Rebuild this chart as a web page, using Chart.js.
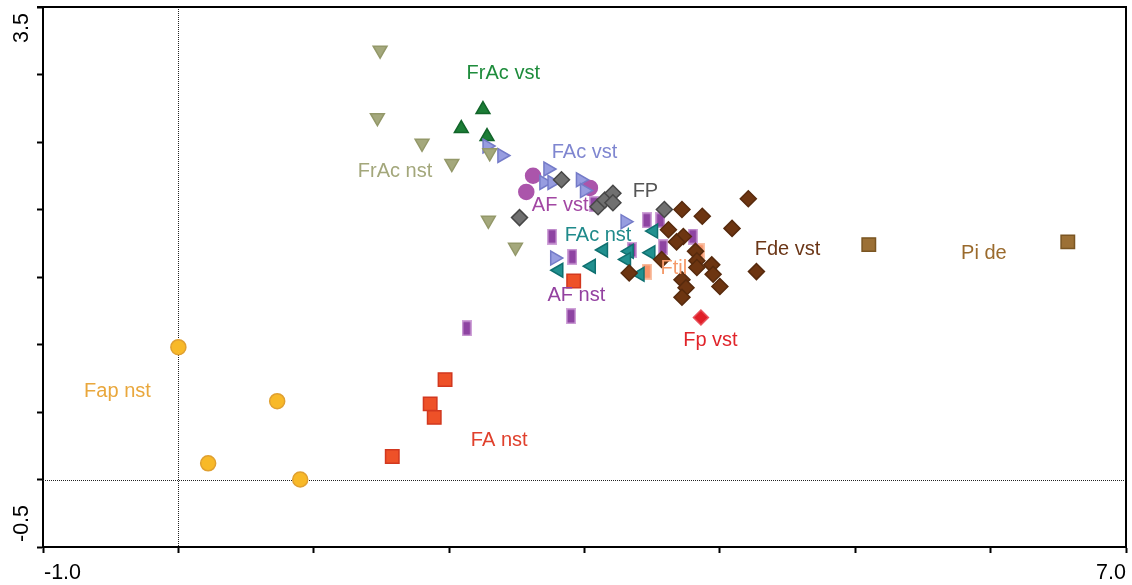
<!DOCTYPE html>
<html>
<head>
<meta charset="utf-8">
<script src="https://cdn.jsdelivr.net/npm/chart.js"></script>
<style>
  body { margin: 0; background: #fff; }
  #wrap { width: 1132px; height: 585px; }
</style>
</head>
<body>
<div id="wrap"><canvas id="ordination" width="1132" height="585"></canvas></div>
<script>
// axis range / ticks
var xTickLabels = [-1.0, 7.0];
var yTickLabels = [-0.5, 3.5];

// sample scores, one pair of arrays per group
var fracNstX = [1.49, 1.47, 1.80, 2.02, 2.30, 2.29, 2.49];
var fracNstY = [3.18, 2.68, 2.49, 2.34, 2.42, 1.92, 1.72];
var fracVstX = [2.25, 2.09, 2.28];
var fracVstY = [2.74, 2.60, 2.54];
var facVstX = [2.28, 2.39, 2.73, 2.70, 2.76, 2.97, 3.00, 3.30, 2.78];
var facVstY = [2.47, 2.40, 2.30, 2.20, 2.20, 2.22, 2.14, 1.91, 1.64];
var afVstX = [2.62, 2.57, 3.04];
var afVstY = [2.25, 2.13, 2.16];
var fpX = [2.83, 2.52, 3.10, 3.15, 3.21, 3.21, 3.59];
var fpY = [2.22, 1.94, 2.02, 2.07, 2.12, 2.05, 2.00];
var afNstX = [2.76, 2.91, 3.07, 3.46, 3.56, 3.35, 3.58, 3.80, 2.90, 2.13];
var afNstY = [1.80, 1.65, 2.04, 1.92, 1.92, 1.70, 1.72, 1.80, 1.21, 1.12];
var facNstX = [3.14, 2.81, 3.05, 3.33, 3.31, 3.51, 3.49, 3.41];
var facNstY = [1.70, 1.55, 1.58, 1.69, 1.63, 1.84, 1.68, 1.52];
var ftilX = [3.46, 3.85];
var ftilY = [1.54, 1.69];
var fdeVstX = [4.21, 3.72, 3.87, 4.09, 3.62, 3.73, 3.68, 3.82, 3.83, 3.94, 3.95, 3.83, 3.57, 3.33, 4.27, 3.72, 3.75, 4.00, 3.72];
var fdeVstY = [2.08, 2.00, 1.95, 1.86, 1.85, 1.80, 1.76, 1.69, 1.62, 1.59, 1.52, 1.57, 1.63, 1.53, 1.54, 1.48, 1.42, 1.43, 1.35];
var fpVstX = [3.86];
var fpVstY = [1.20];
var faNstX = [1.97, 1.86, 1.89, 1.58, 2.92];
var faNstY = [0.74, 0.56, 0.46, 0.17, 1.47];
var fapNstX = [0.0, 0.73, 0.22, 0.90];
var fapNstY = [0.98, 0.58, 0.12, 0.0];
var piDeX = [5.10, 6.57];
var piDeY = [1.74, 1.76];

// group names written on the plot and where they sit (data units)
var groupNames = ["FrAc vst", "FrAc nst", "FAc vst", "AF vst", "FP", "FAc nst", "AF nst", "Ftil", "Fde vst", "Fp vst", "FA nst", "Fap nst", "Pi de"];
var nameX = [2.40, 1.60, 3.00, 2.82, 3.45, 3.10, 2.94, 3.66, 4.50, 3.93, 2.37, -0.45, 5.95];
var nameY = [2.97, 2.24, 2.38, 1.99, 2.09, 1.77, 1.32, 1.52, 1.66, 0.99, 0.25, 0.61, 1.63];
var nameColors = ["#1e8c3c", "#a3a77b", "#7f86d0", "#a247a3", "#555555", "#1f8a8b", "#9341a0", "#f49a6a", "#6b3617", "#e0242a", "#e0402c", "#e9a73c", "#9a6a2c"];

function pts(xs, ys) {
  return xs.map(function (x, i) { return { x: x, y: ys[i] }; });
}

function barMark(fill, edge) {
  var c = document.createElement("canvas");
  c.width = 10; c.height = 16;
  var g = c.getContext("2d");
  g.fillStyle = edge;
  g.fillRect(0, 0, 10, 16);
  g.fillStyle = fill;
  g.fillRect(1.5, 1.5, 7, 13);
  return c;
}

function group(label, xs, ys, style, fill, edge, r, rot) {
  return {
    label: label,
    data: pts(xs, ys),
    pointStyle: style,
    pointRotation: rot || 0,
    pointRadius: r,
    pointHoverRadius: r,
    backgroundColor: fill,
    borderColor: edge,
    pointBorderWidth: 1.5
  };
}

var refLines = {
  id: "refLines",
  beforeDatasetsDraw: function (chart) {
    var ctx = chart.ctx, a = chart.chartArea;
    var x0 = chart.scales.x.getPixelForValue(0);
    var y0 = chart.scales.y.getPixelForValue(0);
    ctx.save();
    ctx.strokeStyle = "#222";
    ctx.lineWidth = 1;
    ctx.setLineDash([1, 1]);
    ctx.beginPath();
    ctx.moveTo(Math.round(x0) + 0.5, a.top);
    ctx.lineTo(Math.round(x0) + 0.5, a.bottom);
    ctx.moveTo(a.left, Math.round(y0) + 0.5);
    ctx.lineTo(a.right, Math.round(y0) + 0.5);
    ctx.stroke();
    ctx.restore();
  },
  afterDatasetsDraw: function (chart) {
    var ctx = chart.ctx, a = chart.chartArea;
    var sx = chart.scales.x, sy = chart.scales.y;
    ctx.save();
    // frame top + right
    ctx.strokeStyle = "#000";
    ctx.lineWidth = 2;
    ctx.beginPath();
    ctx.moveTo(a.left - 6, a.top);
    ctx.lineTo(a.right, a.top);
    ctx.lineTo(a.right, a.bottom);
    ctx.stroke();

    // group names
    ctx.font = "20px 'Liberation Sans', Arial, sans-serif";
    ctx.textAlign = "center";
    ctx.textBaseline = "alphabetic";
    groupNames.forEach(function (n, i) {
      ctx.fillStyle = nameColors[i];
      ctx.fillText(n, sx.getPixelForValue(nameX[i]), sy.getPixelForValue(nameY[i]));
    });

    // end tick labels
    ctx.fillStyle = "#000";
    ctx.font = "21.5px 'Liberation Sans', Arial, sans-serif";
    ctx.textAlign = "left";
    ctx.fillText(xTickLabels[0].toFixed(1), sx.getPixelForValue(xTickLabels[0]) + 1, 579);
    ctx.textAlign = "right";
    ctx.fillText(xTickLabels[1].toFixed(1), sx.getPixelForValue(xTickLabels[1]), 579);

    ctx.translate(28, 0);
    ctx.rotate(-Math.PI / 2);
    ctx.textAlign = "left";
    ctx.fillText(yTickLabels[0].toFixed(1), -(sy.getPixelForValue(yTickLabels[0]) - 5), 0);
    ctx.textAlign = "right";
    ctx.fillText(yTickLabels[1].toFixed(1), -(sy.getPixelForValue(yTickLabels[1]) + 6), 0);
    ctx.restore();
  }
};

new Chart(document.getElementById("ordination"), {
  type: "scatter",
  data: {
    datasets: [
      group("Fde vst", fdeVstX, fdeVstY, "rectRot", "#6d3511", "#572a0d", 8),
      group("Fp vst", fpVstX, fpVstY, "rectRot", "#e01f28", "#e8505a", 7.5),
      group("FP", fpX, fpY, "rectRot", "#707070", "#474747", 8),
      group("FAc nst", facNstX, facNstY, "triangle", "#21908f", "#0f7070", 8, -90),
      group("AF nst", afNstX, afNstY, barMark("#8e44a2", "#cfa2d8"), "#8e44a2", "#cfa2d8", 8),
      group("Ftil", ftilX, ftilY, barMark("#f8946a", "#f9c2a6"), "#f8946a", "#f9c2a6", 8),
      group("FrAc nst", fracNstX, fracNstY, "triangle", "#a4a87c", "#939869", 8, 180),
      group("FAc vst", facVstX, facVstY, "triangle", "#979de0", "#747bc8", 8, 90),
      group("AF vst", afVstX, afVstY, "circle", "#ab55ab", "#ab55ab", 7.5),
      group("FrAc vst", fracVstX, fracVstY, "triangle", "#1c7d36", "#12652a", 8),
      group("FA nst", faNstX, faNstY, "rect", "#ee5128", "#d2381f", 9.5),
      group("Fap nst", fapNstX, fapNstY, "circle", "#f8b928", "#e0a030", 7.5),
      group("Pi de", piDeX, piDeY, "rect", "#9c7035", "#7a5522", 9.5)
    ]
  },
  options: {
    responsive: false,
    animation: false,
    events: [],
    layout: { autoPadding: false, padding: { left: 37, right: 6, top: 7, bottom: 32 } },
    plugins: { legend: { display: false }, tooltip: { enabled: false } },
    scales: {
      x: {
        type: "linear",
        min: xTickLabels[0],
        max: xTickLabels[1],
        ticks: { stepSize: 1, display: false },
        grid: { drawOnChartArea: false, drawTicks: true, tickLength: 6, tickWidth: 2, tickColor: "#000" },
        border: { display: true, color: "#000", width: 2 }
      },
      y: {
        type: "linear",
        min: yTickLabels[0],
        max: yTickLabels[1],
        ticks: { stepSize: 0.5, display: false },
        grid: { drawOnChartArea: false, drawTicks: true, tickLength: 6, tickWidth: 2, tickColor: "#000" },
        border: { display: true, color: "#000", width: 2 }
      }
    }
  },
  plugins: [refLines]
});
</script>
</body>
</html>
